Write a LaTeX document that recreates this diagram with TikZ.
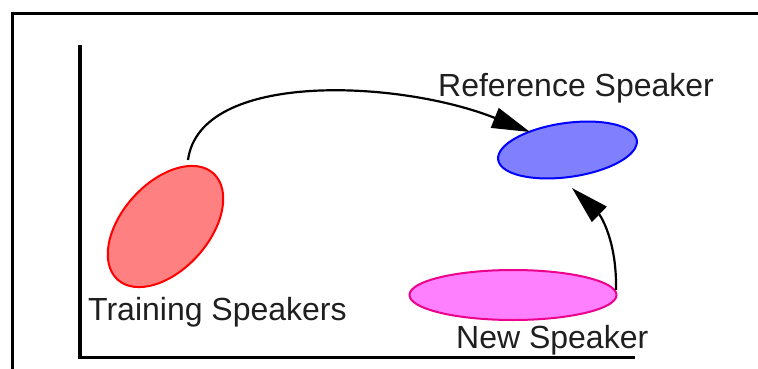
\documentclass[tikz,border=0pt]{standalone}
\usepackage{fontspec}
\setmainfont{Liberation Sans}
\usetikzlibrary{shapes.geometric,arrows.meta}
\definecolor{redfill}{RGB}{255,128,128}
\definecolor{bluefill}{RGB}{128,128,255}
\definecolor{magfill}{RGB}{255,128,255}
\begin{document}
\begin{tikzpicture}[x=1pt,y=1pt,
  lbl/.style={anchor=base west, inner sep=0pt, font=\fontsize{32}{38}\selectfont, text=black!88},
  blob/.style={ellipse, draw, line width=2pt, inner sep=0pt, outer sep=0pt},
  conn/.style={line width=2.2pt, -{Triangle[length=38pt,width=21pt]}},
]
\useasboundingbox (0,0) rectangle (758,368);
\clip (0,0) rectangle (758,368);
\fill[white] (0,0) rectangle (758,368);
% outer frame
\draw[line width=3pt] (770,354.5) -- (12.5,354.5) -- (12.5,-10);
% axes
\draw[line width=3.5pt] (80,323) -- (80,10.5) -- (635,10.5);
% blobs
\node[blob, draw=red, fill=redfill, minimum width=143pt, minimum height=87pt, rotate=48] (train) at (165.5,141.5) {};
\node[blob, draw=blue, fill=bluefill, minimum width=140pt, minimum height=54pt, rotate=8] (ref) at (567.5,218) {};
\node[blob, draw=magenta, fill=magfill, minimum width=207pt, minimum height=50pt] (new) at (513,73) {};
% connector end points
\coordinate (trainTop) at (188,208);
\coordinate (refLeft) at (530,236);
\coordinate (newRight) at (616,78);
\coordinate (refBottom) at (572,180);
\draw[conn] (trainTop) .. controls (200,298) and (400,288) .. (refLeft);
\draw[conn] (newRight) .. controls (617,128) and (600,153) .. (refBottom);
% labels
\node[lbl] (refl) at (438,271.5) {Reference Speaker};
\node[lbl] (trainl) at (88,48) {Training Speakers};
\node[lbl] (newl) at (456,20) {New Speaker};
\end{tikzpicture}
\end{document}
